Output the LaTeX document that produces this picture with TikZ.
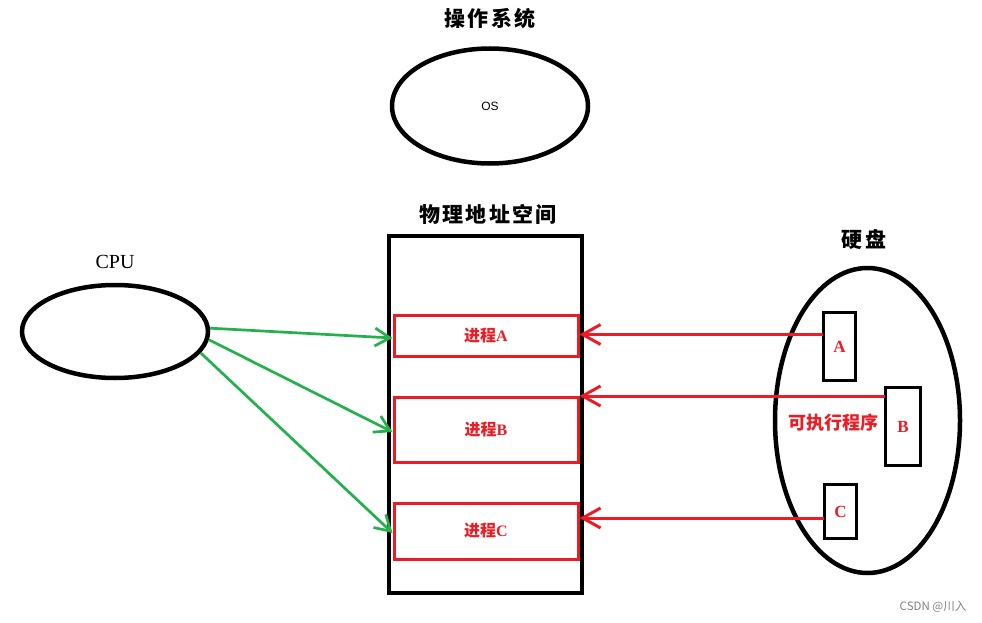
\documentclass[tikz,border=0pt]{standalone}
\usepackage{fontspec}
\setmainfont{Liberation Serif}
\newfontfamily\cjk{Noto Sans CJK SC}
\newfontfamily\cjkwide[LetterSpace=10]{Noto Sans CJK SC}
\newfontfamily\arial{Liberation Sans}
\usetikzlibrary{shapes.geometric,arrows.meta}
\definecolor{pred}{HTML}{ED1C24}
\definecolor{pgreen}{HTML}{22B14C}
\begin{document}
\begin{tikzpicture}[x=1pt,y=-1pt,
  bigell/.style={ellipse,draw=black,line width=4.5pt,inner sep=0pt},
  procbox/.style={rectangle,draw=pred,line width=3pt,minimum width=184pt,inner sep=0pt,text=pred,font=\fontsize{16}{16}\selectfont\bfseries},
  filebox/.style={rectangle,draw=black,line width=3pt,inner sep=0pt,text=pred,font=\fontsize{17}{17}\selectfont\bfseries},
  title/.style={font=\cjkwide\fontsize{21}{21}\selectfont\bfseries,inner sep=0pt},
  garrow/.style={draw=pgreen,line width=2.7pt,-{Straight Barb[length=15pt,width=18pt,line width=2.7pt]}},
  rarrow/.style={draw=pred,line width=3pt,-{Straight Barb[length=18pt,width=20pt,line width=3pt]}}]
\useasboundingbox (0,0) rectangle (982,623);
% titles
\node[title] (tos) at (490,19) {操作系统};
\node[title] (tmem) at (488,214) {物理地址空间};
\node[title] (tdisk) at (864,239) {硬盘};
\node[inner sep=0pt,font=\fontsize{20}{20}\selectfont] (tcpu) at (115,262) {CPU};
% OS
\node[bigell,minimum width=196pt,minimum height=115pt] (os) at (490,106) {\arial\fontsize{12}{12}\selectfont OS};
% CPU
\node[bigell,minimum width=186pt,minimum height=93pt] (cpu) at (115,331.5) {};
% memory
\node[rectangle,draw=black,line width=4.5pt,minimum width=193pt,minimum height=357pt,inner sep=0pt] (mem) at (485.5,414.5) {};
\node[procbox,minimum height=41pt] (pA) at (486,335.5) {{\cjk 进程}A};
\node[procbox,minimum height=65pt] (pB) at (486,429.5) {{\cjk 进程}B};
\node[procbox,minimum height=56pt] (pC) at (486,531) {{\cjk 进程}C};
% disk
\node[bigell,minimum width=185pt,minimum height=305pt] (disk) at (867.5,420.5) {};
\node[filebox,minimum width=32pt,minimum height=68pt] (fA) at (839.5,346.5) {A};
\node[filebox,minimum width=35pt,minimum height=78pt] (fB) at (903,426.5) {B};
\node[filebox,minimum width=32pt,minimum height=54pt] (fC) at (840.5,511.5) {C};
\node[inner sep=0pt,text=pred,font=\cjk\fontsize{18}{18}\selectfont\bfseries] (exe) at (833,423) {可执行程序};
% green arrows
\draw[garrow] (cpu.2) -- ([yshift=-2.5pt]pA.west);
\draw[garrow] (cpu.-5) -- ([yshift=-2.5pt]pB.west);
\draw[garrow] (cpu.-14.5) -- ([yshift=-2pt]pC.west);
% red arrows
\coordinate (ra) at (823,334.5);
\coordinate (rb) at (885,396);
\coordinate (rc) at (824,518);
\draw[rarrow] (ra) -- (ra -| pA.east);
\draw[rarrow] (rb) -- (rb -| pB.east);
\draw[rarrow] (rc) -- (rc -| pC.east);
% watermark
\node[inner sep=0pt,text=black!50,font=\cjk\fontsize{11.5}{11.5}\selectfont] (wm) at (933,607) {CSDN @川入};
\end{tikzpicture}
\end{document}
